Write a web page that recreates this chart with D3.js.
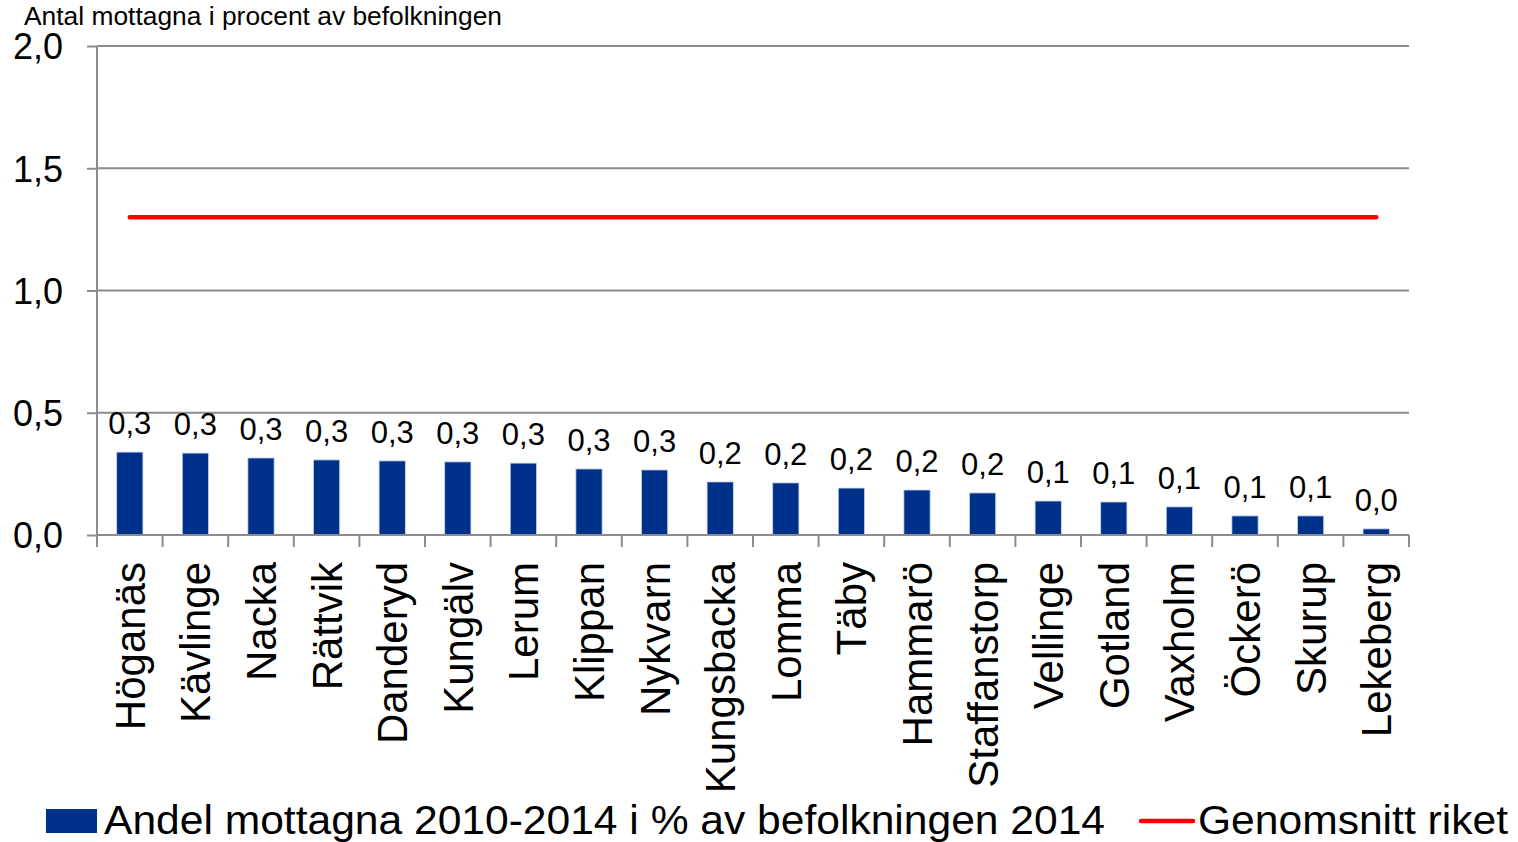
<!DOCTYPE html>
<html><head><meta charset="utf-8">
<script src="https://cdn.jsdelivr.net/npm/d3@7"></script>
<style>body{margin:0;background:#fff}svg{display:block;font-family:"Liberation Sans",Arial,sans-serif}</style>
</head><body>
<svg id="c" width="1518" height="842"></svg>
<script>
const categories = ["Höganäs","Kävlinge","Nacka","Rättvik","Danderyd","Kungälv","Lerum","Klippan","Nykvarn","Kungsbacka","Lomma","Täby","Hammarö","Staffanstorp","Vellinge","Gotland","Vaxholm","Öckerö","Skurup","Lekeberg"];
const values = [0.339,0.335,0.315,0.307,0.303,0.299,0.294,0.270,0.266,0.217,0.213,0.192,0.184,0.172,0.139,0.135,0.115,0.078,0.078,0.025];
const average = 1.3;
const yTicks = [0,0.5,1.0,1.5,2.0];
const seriesNames = ["Andel mottagna 2010-2014 i % av befolkningen 2014","Genomsnitt riket"];
const yTitle = "Antal mottagna i procent av befolkningen";

const svg = d3.select("#c");
const L = 97, R = 1409, T = 46, B = 535;
const x = d3.scaleBand().domain(categories).range([L, R]).paddingInner(0.6).paddingOuter(0.3);
const xb = d3.scaleBand().domain(categories).range([L, R]);
const y = d3.scaleLinear().domain([0, 2]).range([B, T]);
const fmt = v => d3.format(".1f")(v).replace(".", ",");

// gridlines
svg.append("g").selectAll("line").data(yTicks.filter(d => d > 0)).join("line")
  .attr("x1", L).attr("x2", R).attr("y1", d => y(d)).attr("y2", d => y(d))
  .attr("stroke", "#8c8c8c").attr("stroke-width", 2);

// y axis
const ya = svg.append("g").attr("transform", `translate(${L},0)`)
  .call(d3.axisLeft(y).tickValues(yTicks).tickFormat(fmt).tickSize(10).tickPadding(10));
ya.select(".domain").attr("stroke", "#8c8c8c").attr("stroke-width", 2).attr("d", `M0,${T}V${B}`);
ya.selectAll(".tick line").attr("stroke", "#8c8c8c").attr("stroke-width", 2);
ya.selectAll(".tick text").attr("font-size", 36).attr("fill", "#000").attr("font-family", "Liberation Sans, Arial, sans-serif").attr("dy", "0.36em").attr("x", -34);

// bars
svg.append("g").selectAll("rect").data(values).join("rect")
  .attr("x", (d, i) => x(categories[i])).attr("width", x.bandwidth())
  .attr("y", d => y(d)).attr("height", d => B - y(d))
  .attr("fill", "#00318a").attr("stroke", "#c9d3e8").attr("stroke-width", 0.8);

// data labels
svg.append("g").selectAll("text").data(values).join("text")
  .attr("x", (d, i) => x(categories[i]) + x.bandwidth() / 2)
  .attr("y", d => y(d) - 18)
  .attr("text-anchor", "middle").attr("font-size", 31).attr("fill", "#000")
  .text(d => fmt(d));

// x axis
const xa = svg.append("g").attr("transform", `translate(0,${B})`)
  .call(d3.axisBottom(xb).tickSize(0).tickFormat(""));
xa.select(".domain").attr("stroke", "#8c8c8c").attr("stroke-width", 2).attr("d", `M${L},0H${R}`);
svg.append("g").selectAll("line").data(d3.range(categories.length + 1)).join("line")
  .attr("x1", i => L + i * xb.step()).attr("x2", i => L + i * xb.step())
  .attr("y1", B).attr("y2", B + 12).attr("stroke", "#8c8c8c").attr("stroke-width", 2);

// category labels
svg.append("g").selectAll("text").data(categories).join("text")
  .attr("transform", d => `translate(${xb(d) + xb.bandwidth() / 2 + 15},${B + 27}) rotate(-90)`)
  .attr("text-anchor", "end").attr("font-size", 42).attr("fill", "#000")
  .text(d => d);

// average line
svg.append("line")
  .attr("x1", x(categories[0]) + x.bandwidth() / 2)
  .attr("x2", x(categories[categories.length - 1]) + x.bandwidth() / 2)
  .attr("y1", y(average)).attr("y2", y(average))
  .attr("stroke", "#ff0000").attr("stroke-width", 4.5).attr("stroke-linecap", "round");

// title
svg.append("text").attr("x", 24).attr("y", 25).attr("font-size", 25).attr("fill", "#000")
  .attr("textLength", 478).attr("lengthAdjust", "spacingAndGlyphs").text(yTitle);

// legend
svg.append("rect").attr("x", 46).attr("y", 809).attr("width", 51).attr("height", 24).attr("fill", "#00318a");
svg.append("text").attr("x", 104).attr("y", 834).attr("font-size", 40).attr("fill", "#000")
  .attr("textLength", 1001).attr("lengthAdjust", "spacingAndGlyphs").text(seriesNames[0]);
svg.append("line").attr("x1", 1141).attr("x2", 1193).attr("y1", 821).attr("y2", 821)
  .attr("stroke", "#ff0000").attr("stroke-width", 4.5).attr("stroke-linecap", "round");
svg.append("text").attr("x", 1198).attr("y", 834).attr("font-size", 40).attr("fill", "#000")
  .attr("textLength", 310).attr("lengthAdjust", "spacingAndGlyphs").text(seriesNames[1]);
</script>
</body></html>
